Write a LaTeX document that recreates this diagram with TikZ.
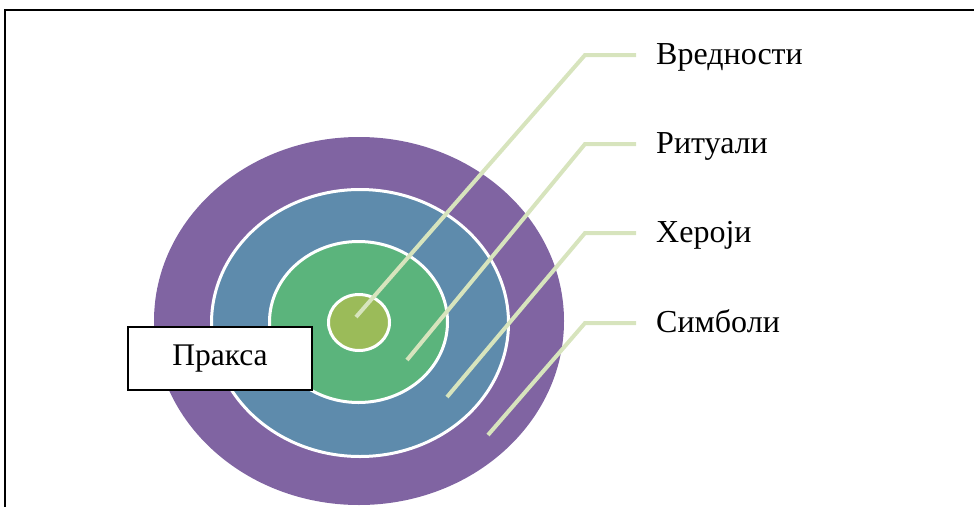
\documentclass[tikz,border=0pt]{standalone}
\usepackage{fontspec}
\setmainfont{Liberation Serif}
\definecolor{ringpurple}{RGB}{128,100,162}
\definecolor{ringblue}{RGB}{94,139,172}
\definecolor{ringgreen}{RGB}{91,180,124}
\definecolor{ringcore}{RGB}{155,187,89}
\definecolor{leader}{RGB}{215,228,189}
\tikzset{
  ring/.style={draw=white, line width=3pt},
  leaderline/.style={draw=leader, line width=4pt, line join=miter},
  lbl/.style={anchor=base west, inner sep=0pt, font=\fontsize{32}{38}\selectfont},
  praxbox/.style={draw=black, fill=white, line width=1.5pt, minimum width=184pt, minimum height=63pt, inner sep=0pt, font=\fontsize{31.5}{37}\selectfont},
  frameline/.style={draw=black, line width=2.5pt}
}
\begin{document}
\begin{tikzpicture}[x=1pt,y=-1pt]
\useasboundingbox (0,0) rectangle (974,506);
% frame
\coordinate (fb) at (5,510);
\coordinate (ftl) at (5,10);
\coordinate (fr) at (980,10);
\draw[frameline] (fb) -- (ftl) -- (fr);
% rings
\begin{scope}
\clip (0,0) rectangle (974,506);
\path[fill=ringpurple] (359,321) ellipse [x radius=205pt, y radius=184pt];
\path[ring, fill=ringblue] (360,323) ellipse [x radius=148.5pt, y radius=133.5pt];
\path[ring, fill=ringgreen] (358.5,322) ellipse [x radius=89pt, y radius=80.5pt];
\path[ring, fill=ringcore] (359,322.5) ellipse [x radius=30.5pt, y radius=28pt];
\end{scope}
% leader coordinates
\coordinate (s1) at (356,317);
\coordinate (c1) at (585,55);
\coordinate (e1) at (636,55);
\coordinate (s2) at (407,360);
\coordinate (c2) at (585,144);
\coordinate (e2) at (636,144);
\coordinate (s3) at (447,397);
\coordinate (c3) at (585,233);
\coordinate (e3) at (636,233);
\coordinate (s4) at (488,435);
\coordinate (c4) at (585,323);
\coordinate (e4) at (636,323);
\draw[leaderline] (s1) -- (c1) -- (e1);
\draw[leaderline] (s2) -- (c2) -- (e2);
\draw[leaderline] (s3) -- (c3) -- (e3);
\draw[leaderline] (s4) -- (c4) -- (e4);
% labels
\node[lbl] (vred) at (656,64.5) {Вредности};
\node[lbl] (rit) at (656,153.5) {Ритуали};
\node[lbl] (her) at (656,242.5) {Хероји};
\node[lbl] (sim) at (656,332.5) {Симболи};
% praxis box
\node[praxbox] (prax) at (220,358.5) {Пракса};
\end{tikzpicture}
\end{document}
